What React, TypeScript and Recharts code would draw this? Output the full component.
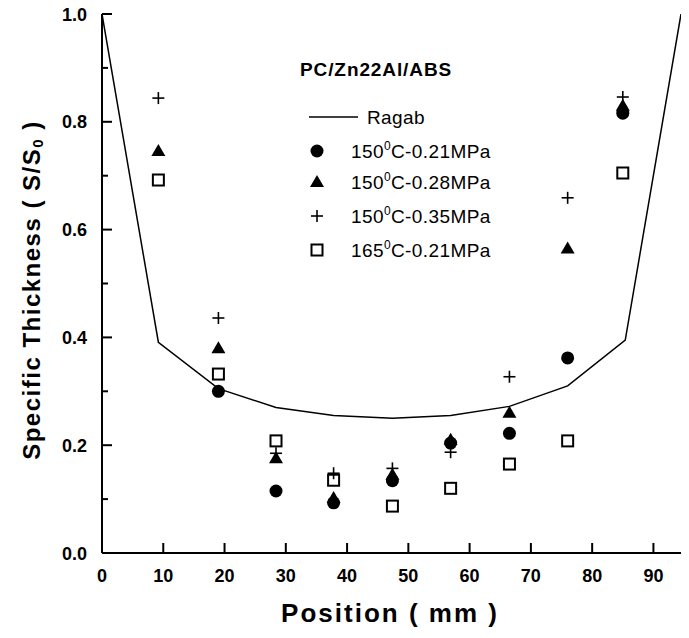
import { ScatterChart, Scatter, XAxis, YAxis } from "recharts";

// measured positions along the part (mm)
const positions = [9.2, 19, 28.4, 37.8, 47.4, 56.9, 66.5, 76, 85];

// specific thickness S/S0 for each test condition
const c150_021 = [null, 0.3, 0.115, 0.093, 0.134, 0.204, 0.222, 0.362, 0.816];
const c150_028 = [0.746, 0.38, 0.176, 0.102, 0.145, 0.21, 0.26, 0.565, 0.83];
const c150_035 = [0.844, 0.436, 0.185, 0.148, 0.157, 0.187, 0.327, 0.659, 0.846];
const c165_021 = [0.692, 0.332, 0.208, 0.135, 0.087, 0.12, 0.165, 0.208, 0.705];

// Ragab model curve
const ragabX = [0, 9.2, 19, 28.4, 37.8, 47.4, 56.9, 66.5, 76, 85.4, 94.5];
const ragabY = [1.0, 0.391, 0.305, 0.27, 0.255, 0.25, 0.255, 0.272, 0.31, 0.395, 1.0];

const xTicks = [0, 10, 20, 30, 40, 50, 60, 70, 80, 90];
const xTopTicks = [10, 20, 30, 40, 50, 60, 70, 80, 90];
const yTicks = [0, 0.1, 0.2, 0.3, 0.4, 0.5, 0.6, 0.7, 0.8, 0.9, 1.0];

const title = "PC/Zn22Al/ABS";
const seriesNames = ["Ragab", "150|C-0.21MPa", "150|C-0.28MPa", "150|C-0.35MPa", "165|C-0.21MPa"];

const FONT = "'Liberation Sans', Arial, Helvetica, sans-serif";

const toPoints = (ys: (number | null)[]) =>
  positions
    .map((x, i) => ({ x, y: ys[i] }))
    .filter((p) => p.y !== null);

const ragab = ragabX.map((x, i) => ({ x, y: ragabY[i] }));

const isMajor = (v: number) => Math.round(v * 10) % 2 === 0;

const BottomTick = (props: any) => {
  const { x, y, payload } = props;
  return (
    <g>
      <line x1={x} x2={x} y1={y} y2={y - 10} stroke="#000" strokeWidth={2} />
      <text x={x} y={y + 29} textAnchor="middle" fontSize={18} fontWeight="bold" fontFamily={FONT} fill="#000">
        {payload.value}
      </text>
    </g>
  );
};

const TopTick = (props: any) => {
  const { x, y } = props;
  return <line x1={x} x2={x} y1={y} y2={y + 10} stroke="#000" strokeWidth={2} />;
};

const LeftTick = (props: any) => {
  const { x, y, payload } = props;
  const major = isMajor(payload.value);
  return (
    <g>
      <line x1={x} x2={x + (major ? 10 : 6)} y1={y} y2={y} stroke="#000" strokeWidth={2} />
      {major && (
        <text x={x - 15} y={y + 6.5} textAnchor="end" fontSize={18} fontWeight="bold" fontFamily={FONT} fill="#000">
          {payload.value.toFixed(1)}
        </text>
      )}
    </g>
  );
};

const RightTick = (props: any) => {
  const { x, y, payload } = props;
  const major = isMajor(payload.value);
  return <line x1={x} x2={x - (major ? 10 : 6)} y1={y} y2={y} stroke="#000" strokeWidth={2} />;
};

const Dot = (props: any) => <circle cx={props.cx} cy={props.cy} r={6.5} fill="#000" />;
const Tri = (props: any) => {
  const { cx, cy } = props;
  return <path d={`M${cx},${cy - 7}L${cx + 7},${cy + 5}L${cx - 7},${cy + 5}Z`} fill="#000" />;
};
const Plus = (props: any) => {
  const { cx, cy } = props;
  return (
    <g stroke="#000" strokeWidth={1.6}>
      <line x1={cx - 6} x2={cx + 6} y1={cy} y2={cy} />
      <line x1={cx} x2={cx} y1={cy - 6} y2={cy + 6} />
    </g>
  );
};
const Box = (props: any) => {
  const { cx, cy } = props;
  return <rect x={cx - 5.5} y={cy - 5.5} width={11} height={11} fill="none" stroke="#000" strokeWidth={2} />;
};
const NoDot = () => <g />;

const legendShapes = [Dot, Tri, Plus, Box];

const LegendLabel = ({ x, y, text }: { x: number; y: number; text: string }) => {
  const [pre, post] = text.split("|");
  return (
    <text x={x} y={y} fontSize={19} fontFamily={FONT} fill="#000" letterSpacing={0.4}>
      {pre}
      <tspan fontSize={12} dy={-8}>0</tspan>
      <tspan dy={8}>{post}</tspan>
    </text>
  );
};

export default function App() {
  const axisLine = { stroke: "#000", strokeWidth: 2 };
  return (
    <div style={{ position: "absolute", left: 0, top: 0, width: 689, height: 638, background: "#fff" }}>
      <ScatterChart width={689} height={638} margin={{ top: 14, right: 8, bottom: 0, left: 0 }}>
        <XAxis
          xAxisId="b"
          dataKey="x"
          type="number"
          domain={[0, 94.5]}
          allowDataOverflow
          ticks={xTicks}
          interval={0}
          height={85}
          tickSize={0}
          tickMargin={0}
          tickLine={false}
          tick={BottomTick}
          axisLine={axisLine}
        />
        <XAxis
          xAxisId="t"
          orientation="top"
          type="number"
          domain={[0, 94.5]}
          allowDataOverflow
          ticks={xTopTicks}
          interval={0}
          height={0}
          tickSize={0}
          tickMargin={0}
          tickLine={false}
          tick={TopTick}
          axisLine={axisLine}
        />
        <YAxis
          yAxisId="l"
          dataKey="y"
          type="number"
          domain={[0, 1]}
          allowDataOverflow
          ticks={yTicks}
          interval={0}
          width={102}
          tickSize={0}
          tickMargin={0}
          tickLine={false}
          tick={LeftTick}
          axisLine={axisLine}
        />
        <YAxis
          yAxisId="r"
          orientation="right"
          type="number"
          domain={[0, 1]}
          allowDataOverflow
          ticks={yTicks}
          interval={0}
          width={0}
          tickSize={0}
          tickMargin={0}
          tickLine={false}
          tick={RightTick}
          axisLine={axisLine}
        />
        <Scatter
          xAxisId="b"
          yAxisId="l"
          data={ragab}
          line={{ stroke: "#000", strokeWidth: 1.5 }}
          shape={NoDot}
          isAnimationActive={false}
        />
        <Scatter xAxisId="b" yAxisId="l" data={toPoints(c150_021)} shape={Dot} isAnimationActive={false} />
        <Scatter xAxisId="b" yAxisId="l" data={toPoints(c150_028)} shape={Tri} isAnimationActive={false} />
        <Scatter xAxisId="b" yAxisId="l" data={toPoints(c150_035)} shape={Plus} isAnimationActive={false} />
        <Scatter xAxisId="b" yAxisId="l" data={toPoints(c165_021)} shape={Box} isAnimationActive={false} />
      </ScatterChart>

      <svg
        width={689}
        height={638}
        style={{ position: "absolute", left: 0, top: 0, pointerEvents: "none" }}
      >
        <text x={300} y={76} fontSize={19} fontWeight="bold" fontFamily={FONT} letterSpacing={0.9} fill="#000">
          {title}
        </text>
        <line x1={309} x2={358} y1={117} y2={117} stroke="#000" strokeWidth={1.5} />
        <text x={367} y={123.5} fontSize={19} fontFamily={FONT} fill="#000" letterSpacing={0.4}>
          {seriesNames[0]}
        </text>
        {legendShapes.map((Shape, i) => {
          const cy = [151, 182, 216, 250][i];
          return (
            <g key={seriesNames[i + 1]}>
              <Shape cx={317} cy={cy} />
              <LegendLabel x={351} y={cy + 6.5} text={seriesNames[i + 1]} />
            </g>
          );
        })}
        <text
          x={390}
          y={622}
          textAnchor="middle"
          fontSize={26}
          fontWeight="bold"
          fontFamily={FONT}
          letterSpacing={2}
          fill="#000"
        >
          Position ( mm )
        </text>
        <text
          x={31}
          y={290}
          transform="rotate(-90, 31, 290)"
          textAnchor="middle"
          dominantBaseline="central"
          fontSize={24}
          fontWeight="bold"
          fontFamily={FONT}
          letterSpacing={1.5}
          fill="#000"
        >
          Specific Thickness ( S/S
          <tspan fontSize={15} dy={6}>0</tspan>
          <tspan dy={-6}> )</tspan>
        </text>
      </svg>
    </div>
  );
}
